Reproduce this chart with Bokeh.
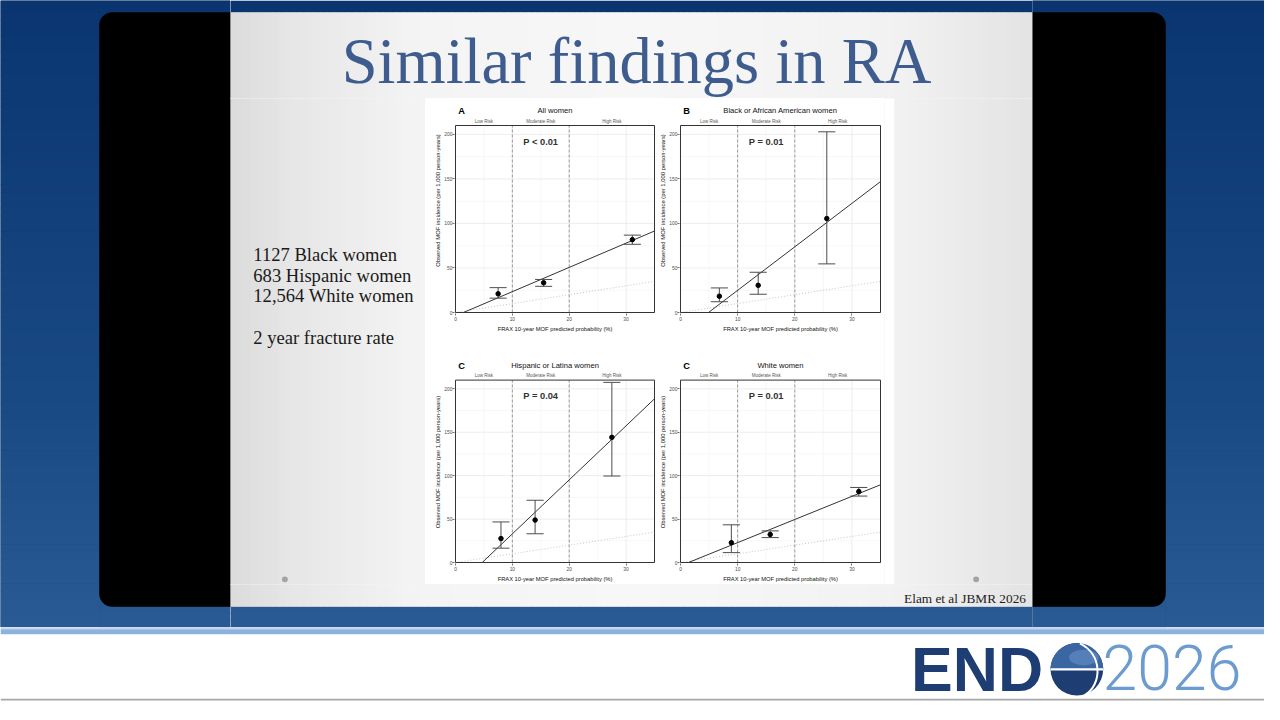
import numpy as np
from bokeh.plotting import figure
from bokeh.models import Range1d, FixedTicker
from bokeh.layouts import row, column
from bokeh.embed import file_html
from bokeh.resources import INLINE
from bokeh.core.properties import value

# ---------------- data ----------------
slide_title = "Similar findings in RA"
cohort_lines = ["1127 Black women", "683 Hispanic women", "12,564 White women"]
outcome_line = "2 year fracture rate"
citation = "Elam et al JBMR 2026"
logo_word = "END"
logo_year = "2026"

panel_letters = ["A", "B", "C", "C"]
panel_titles = ["All women", "Black or African American women",
                "Hispanic or Latina women", "White women"]
p_value_labels = ["P < 0.01", "P = 0.01", "P = 0.04", "P = 0.01"]
risk_labels = ["Low Risk", "Moderate Risk", "High Risk"]
risk_label_x = [5, 15, 27.5]
risk_cutoffs = [10, 20]
x_ticks = [0, 10, 20, 30]
x_minor = [5, 15, 25]
y_ticks = [0, 50, 100, 150, 200]
y_minor = [25, 75, 125, 175]
x_axis_title = "FRAX 10-year MOF predicted probability (%)"
y_axis_title = "Observed MOF incidence (per 1,000 person-years)"

# predicted FRAX (%) per risk group, observed incidence and 95% CI
frax_all = [7.5, 15.5, 31.1]
obs_all = [21.0, 33.4, 81.8]
lo_all = [16.1, 29.4, 76.6]
hi_all = [27.9, 37.1, 86.9]

frax_black = [6.8, 13.6, 25.6]
obs_black = [18.3, 30.5, 105.5]
lo_black = [12.1, 20.5, 54.6]
hi_black = [27.6, 45.2, 202.9]

frax_hisp = [8.0, 14.0, 27.5]
obs_hisp = [27.6, 48.9, 144.1]
lo_hisp = [16.5, 33.1, 99.6]
hi_hisp = [46.7, 71.7, 207.4]

frax_white = [8.9, 15.7, 31.2]
obs_white = [22.8, 32.3, 81.7]
lo_white = [11.4, 28.7, 76.5]
hi_white = [43.4, 36.4, 86.4]

# calibration fit line: x where it crosses 0, and its value at x = 35
fit_zero_x = [1.4, 4.9, 4.7, 1.4]
fit_end_y = [91.5, 147.0, 188.5, 89.5]
identity_x = [0, 35]
identity_y = [0, 35]
x_max = 35
y_max = 210

panel_series = [
    (frax_all, obs_all, lo_all, hi_all),
    (frax_black, obs_black, lo_black, hi_black),
    (frax_hisp, obs_hisp, lo_hisp, hi_hisp),
    (frax_white, obs_white, lo_white, hi_white),
]

# ---------------- layout constants (output pixels) ----------------
SX = 1264 / 1280
SY = 704 / 720
P_X = [425, 655, 884]
P_Y = [98, 352, 584]
YLAB_W = [16, 11]
YLAB_GAP = 16
FRAME_L = [453, 678]
FRAME_R = [654, 880]
FRAME_T = [125, 380]
FRAME_B = [312, 565]
SANS = "Liberation Sans"
SERIF = "Liberation Serif"
MID = 0.34  # em offset between baseline and middle


def fs(px):
    return f"{px * SY:.2f}px"


def _rgb(h):
    return [int(h[i:i + 2], 16) for i in (1, 3, 5)]


def grad(stops, t):
    for (p0, c0), (p1, c1) in zip(stops[:-1], stops[1:]):
        if t <= p1:
            f = 0 if p1 == p0 else max(0.0, (t - p0) / (p1 - p0))
            a, b = _rgb(c0), _rgb(c1)
            return "#" + "".join(f"{int(round(a[i] + (b[i] - a[i]) * f)):02x}" for i in range(3))
    return stops[-1][1]


BLUE_STOPS = [(0, "#0a3570"), (120, "#0e3b76"), (400, "#194983"), (645, "#2b5b94")]
SLIDE_STOPS = [(233, "#dcdcdc"), (290, "#e6e6e6"), (420, "#f4f4f4"),
               (640, "#f7f7f7"), (900, "#f2f2f2"), (1045, "#e3e3e3")]


def blue_band(p, x0, x1, y0, y1, step=8):
    ys = np.arange(y0, y1, step)
    p.quad(left=x0, right=x1, top=ys, bottom=np.minimum(ys + step + 0.6, y1),
           color=[grad(BLUE_STOPS, y) for y in ys], line_color=None)


def draw_background(p):
    # page blue, only where nothing else is painted
    p.quad(left=0, right=1280, top=0, bottom=12.5, color=grad(BLUE_STOPS, 6), line_color=None)
    blue_band(p, 0, 100.5, 12, 641)
    blue_band(p, 1179.5, 1280, 12, 641)
    blue_band(p, 100, 1180, 619.5, 641, step=7)
    # blue under the rounded corners of the black frame
    for cx, cy in [(100, 12), (1166, 12), (100, 606), (1166, 606)]:
        p.quad(left=cx, right=cx + 14, top=cy, bottom=cy + 14,
               color=grad(BLUE_STOPS, cy), line_color=None)
    # black frame either side of the slide
    p.quad(left=100, right=233.5, top=12, bottom=620, fill_color="#000000",
           line_color=None, border_radius=(13, 0, 0, 13))
    p.quad(left=1044.5, right=1180, top=12, bottom=620, fill_color="#000000",
           line_color=None, border_radius=(0, 13, 13, 0))
    # slide
    xs = np.arange(233, 1045, 7)
    p.quad(left=xs, right=np.minimum(xs + 7.6, 1045), top=12, bottom=620,
           color=[grad(SLIDE_STOPS, x) for x in xs], line_color=None)
    p.quad(left=430, right=905, top=100, bottom=597, color="#ffffff", line_color=None)
    p.circle(x=[288, 988], y=[592, 592], radius=3, color="#a3a3a3", line_color=None)
    # footer
    p.quad(left=0, right=1280, top=641, bottom=643, color="#c4d7ee", line_color=None)
    p.quad(left=0, right=1280, top=643, bottom=648.5, color="#8db2dd", line_color=None)
    p.quad(left=0, right=1280, top=648.5, bottom=720, color="#ffffff", line_color=None)
    p.quad(left=0, right=1280, top=714, bottom=716, color="#a8a8a8", line_color=None)


def bg_fig(x0, x1, y0, y1, fill):
    p = figure(width=x1 - x0, height=y1 - y0, title=None,
               x_range=Range1d(x0 / SX, x1 / SX), y_range=Range1d(y1 / SY, y0 / SY),
               x_axis_type=None, y_axis_type=None, toolbar_location=None,
               output_backend="svg", min_border=0, outline_line_color=None,
               background_fill_color=fill, border_fill_color=fill)
    p.grid.visible = False
    draw_background(p)
    return p


def serif_text(p, xs, baselines, texts, size, color, align="left"):
    p.text(x=xs, y=[b - MID * size for b in baselines], text=texts, text_font=value(SERIF),
           text_font_size=fs(size), text_color=color, text_align=align,
           text_baseline="middle")


# ---------------- background pieces ----------------
leftmost = bg_fig(0, 230, 0, 627, "#0b2f60")
rightmost = bg_fig(1032, 1264, 0, 627, "#0b2f60")

top = bg_fig(230, 1032, 0, 98, "#ececec")
serif_text(top, [644], [84], [slide_title], 66, "#3e5d8e", align="center")

lefttext = bg_fig(230, 425, 98, 584, "#ececec")
serif_text(lefttext, [256, 256, 256], [266, 288, 308.5], cohort_lines, 19, "#1a1a1a")
serif_text(lefttext, [256], [351.5], [outcome_line], 19, "#1a1a1a")

rightp = bg_fig(884, 1032, 98, 584, "#ececec")

botslide = bg_fig(230, 1032, 584, 627, "#ececec")
serif_text(botslide, [915], [616.5], [citation], 13.6, "#222222")

bottom = bg_fig(0, 1264, 627, 704, "#ffffff")
bottom.text(x=[922], y=[705 - MID * 64], text=[logo_word], text_font=value(SANS),
            text_font_style="bold", text_font_size=fs(64), text_color="#1d3d73",
            text_baseline="middle")
gr = 26.7
bottom.circle(x=[1090], y=[684], radius=gr, fill_color="#1d3d73", line_color=None)
tt = np.linspace(0, np.pi, 48)
bottom.patch(1090 + gr * np.cos(tt), 684 - gr * np.sin(tt), fill_color="#3a66a2", line_color=None)
bottom.ellipse(x=[1097], y=[672], width=30, height=16, fill_color="#6a93ca",
               fill_alpha=0.55, line_color=None)
bottom.segment(x0=[1063.3], y0=[684], x1=[1116.7], y1=[684], line_color="#ffffff", line_width=2.2)
bottom.bezier(x0=[1093], y0=[657.5], x1=[1098], y1=[710.5], cx0=[1116], cy0=[669],
              cx1=[1116], cy1=[699], line_color="#ffffff", line_width=2)
bottom.text(x=[1116], y=[704 - MID * 64], text=[logo_year], text_font=value("Roboto Light"),
            text_font_size=fs(64), text_color="#6c9bd0", text_baseline="middle")


# ---------------- panels ----------------
def make_ylab(col, r):
    w = YLAB_W[col]
    h = P_Y[r + 1] - P_Y[r]
    p = figure(width=w, height=h, title=None, x_range=Range1d(0, w), y_range=Range1d(0, h),
               x_axis_type=None, y_axis_type=None, toolbar_location=None,
               output_backend="svg", min_border=0, outline_line_color=None,
               background_fill_color="#ffffff", border_fill_color="#ffffff")
    p.grid.visible = False
    cy = h - ((FRAME_T[r] + FRAME_B[r]) / 2 - P_Y[r])
    cx = FRAME_L[col] - YLAB_GAP - P_X[col]
    p.text(x=[cx], y=[cy], text=[y_axis_title], angle=np.pi / 2, text_align="center",
           text_baseline="middle", text_font=value(SANS), text_font_size=fs(6),
           text_color="#111111")
    return p


def make_panel(k, col, r):
    x0, x1 = P_X[col] + YLAB_W[col], P_X[col + 1]
    y0, y1 = P_Y[r], P_Y[r + 1]
    w = FRAME_R[col] - FRAME_L[col]
    h = FRAME_B[r] - FRAME_T[r]
    ux, uy = x_max / w, y_max / h
    fl, fr, fb = FRAME_L[col] - 1, FRAME_R[col] + 1, FRAME_B[r] + 1
    y_top = y_max + (FRAME_T[r] - y0) * uy
    p = figure(width=x1 - x0, height=y1 - y0, title=None,
               x_range=Range1d(-ux, x_max + ux), y_range=Range1d(-uy, y_top),
               min_border_left=fl - x0, min_border_right=x1 - fr,
               min_border_top=0, min_border_bottom=y1 - fb,
               toolbar_location=None, output_backend="svg",
               background_fill_color="#ffffff", border_fill_color="#ffffff",
               outline_line_color=None)
    p.grid.visible = False
    p.xaxis.ticker = FixedTicker(ticks=x_ticks)
    p.yaxis.ticker = FixedTicker(ticks=y_ticks)
    p.xaxis.bounds = (0, x_max)
    p.yaxis.bounds = (0, y_max)
    for ax in (p.xaxis, p.yaxis):
        ax.axis_line_color = None
        ax.major_tick_line_color = "#333333"
        ax.major_tick_line_width = 0.7
        ax.major_tick_out = 2
        ax.major_tick_in = 0
        ax.minor_tick_line_color = None
        ax.major_label_text_font = SANS
        ax.major_label_text_font_size = fs(5)
        ax.major_label_text_color = "#4d4d4d"
        ax.axis_label_text_font = SANS
        ax.axis_label_text_font_style = "normal"
        ax.axis_label_text_color = "#111111"
    p.xaxis.major_label_standoff = 1
    p.yaxis.major_label_standoff = 0
    p.xaxis.axis_label_standoff = 2
    p.xaxis.axis_label = x_axis_title
    p.xaxis.axis_label_text_font_size = fs(5.9)

    # panel grid, bounded to the plotting box
    p.segment(x0=x_minor, y0=0, x1=x_minor, y1=y_max, line_color="#f3f3f3", line_width=0.7)
    p.segment(x0=0, y0=y_minor, x1=x_max, y1=y_minor, line_color="#f3f3f3", line_width=0.7)
    p.segment(x0=x_ticks, y0=0, x1=x_ticks, y1=y_max, line_color="#e8e8e8", line_width=0.8)
    p.segment(x0=0, y0=y_ticks, x1=x_max, y1=y_ticks, line_color="#e8e8e8", line_width=0.8)

    p.segment(x0=risk_cutoffs, y0=0, x1=risk_cutoffs, y1=y_max, line_color="#858585",
              line_width=0.8, line_dash="3 2")
    p.line(identity_x, identity_y, line_color="#c4c4c4", line_width=1, line_dash="1 2")
    p.line([fit_zero_x[k], x_max], [0, fit_end_y[k]], line_color="#333333", line_width=1)

    fx, ob, lo, hi = panel_series[k]
    fx = np.array(fx)
    cap = 1.5
    p.segment(x0=fx, y0=lo, x1=fx, y1=hi, line_color="#4d4d4d", line_width=1)
    p.segment(x0=fx - cap, y0=hi, x1=fx + cap, y1=hi, line_color="#4d4d4d", line_width=1)
    p.segment(x0=fx - cap, y0=lo, x1=fx + cap, y1=lo, line_color="#4d4d4d", line_width=1)
    p.scatter(fx, ob, size=4.5, color="#000000")

    # white band above the box, then the box itself
    p.quad(left=-ux, right=x_max + ux, bottom=y_max, top=y_top, fill_color="#ffffff", line_color=None)
    p.quad(left=0, right=x_max, bottom=0, top=y_max, fill_color=None,
           line_color="#333333", line_width=1)

    ty = y_max + 14.7 * uy
    p.text(x=[x_max / 2], y=[ty], text=[panel_titles[k]], text_align="center",
           text_baseline="middle", text_font=value(SANS), text_font_size=fs(7.8),
           text_color="#111111")
    p.text(x=[0.5], y=[ty], text=[panel_letters[k]], text_align="left",
           text_baseline="middle", text_font=value(SANS), text_font_style="bold",
           text_font_size=fs(9.5), text_color="#000000")
    p.text(x=risk_label_x, y=[y_max + 4.4 * uy] * len(risk_labels), text=risk_labels,
           text_align="center", text_baseline="middle", text_font=value(SANS),
           text_font_size=fs(4.6), text_color="#555555")
    p.text(x=[15], y=[192], text=[p_value_labels[k]], text_align="center",
           text_baseline="middle", text_font=value(SANS), text_font_style="bold",
           text_font_size=fs(9.5), text_color="#333333")
    return p


def cell(k, col, r):
    return row(make_ylab(col, r), make_panel(k, col, r))


grid = column(row(cell(0, 0, 0), cell(1, 1, 0)), row(cell(2, 0, 1), cell(3, 1, 1)))
center = column(top, row(lefttext, grid, rightp), botslide)
layout = column(row(leftmost, center, rightmost), bottom)

open("out.html", "w").write(file_html(layout, INLINE))
